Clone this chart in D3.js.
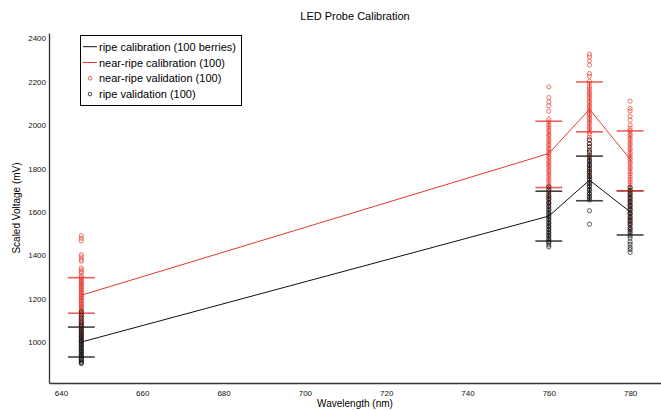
<!DOCTYPE html>
<html>
<head>
<meta charset="utf-8">
<script src="https://cdn.jsdelivr.net/npm/d3@7"></script>
<style>
  body { margin: 0; background: #fff; }
  svg { font-family: "Liberation Sans", Arial, Helvetica, sans-serif; }
</style>
</head>
<body>
<svg></svg>
<script>
const w = 661
const h = 410

// wavelengths (nm) and calibration means
const wavelengths = [645, 760, 770, 780]
const ripeCal = [999, 1580, 1746, 1600]
const nearCal = [1215, 1869, 2073, 1843]

// error caps (upper / lower)
const ripeHi = [1068, 1695, 1857, 1697]
const ripeLo = [930, 1465, 1651, 1493]
const nearHi = [1296, 2018, 2199, 1973]
const nearLo = [1132, 1712, 1969, 1697]

// validation points, one list per wavelength
const nearVal = [
  [1002, 1019, 1033, 1048, 1055, 1069, 1076, 1086, 1092, 1102, 1107, 1117, 1121, 1130, 1134, 1142, 1147, 1155, 1161, 1166, 1174, 1179, 1187, 1191, 1200, 1204, 1212, 1217, 1225, 1230, 1238, 1243, 1251, 1256, 1264, 1269, 1277, 1282, 1290, 1296, 1304, 1318, 1324, 1332, 1341, 1372, 1380, 1392, 1402, 1466, 1478, 1490],
  [1641, 1667, 1691, 1704, 1717, 1727, 1741, 1750, 1763, 1772, 1785, 1794, 1806, 1815, 1827, 1835, 1847, 1855, 1867, 1875, 1887, 1895, 1907, 1915, 1927, 1936, 1949, 1957, 1970, 1979, 1992, 2001, 2015, 2027, 2064, 2089, 2107, 2127, 2176],
  [1761, 1789, 1816, 1837, 1861, 1879, 1899, 1914, 1931, 1944, 1959, 1969, 1982, 1991, 2004, 2012, 2024, 2032, 2044, 2052, 2064, 2072, 2084, 2092, 2104, 2112, 2124, 2132, 2144, 2153, 2166, 2176, 2191, 2202, 2226, 2238, 2277, 2297, 2315, 2327],
  [1518, 1546, 1567, 1591, 1611, 1633, 1651, 1671, 1685, 1701, 1712, 1727, 1737, 1751, 1761, 1775, 1785, 1798, 1807, 1820, 1829, 1842, 1851, 1864, 1873, 1886, 1895, 1908, 1917, 1930, 1939, 1952, 1961, 1975, 1986, 2000, 2023, 2041, 2066, 2077, 2110]
]
const ripeVal = [
  [899, 904, 907, 913, 918, 921, 927, 934, 936, 942, 948, 955, 958, 963, 970, 974, 981, 986, 990, 997, 1003, 1006, 1012, 1019, 1024, 1031, 1036, 1043, 1050, 1057, 1064, 1072, 1079, 1088, 1097, 1110, 1124, 1138],
  [1438, 1447, 1457, 1462, 1471, 1477, 1487, 1492, 1501, 1506, 1516, 1521, 1531, 1536, 1546, 1551, 1561, 1567, 1576, 1582, 1591, 1597, 1607, 1612, 1622, 1628, 1638, 1644, 1655, 1661, 1672, 1679, 1691, 1701, 1715],
  [1543, 1605, 1655, 1664, 1671, 1681, 1687, 1698, 1704, 1714, 1720, 1730, 1736, 1746, 1752, 1762, 1768, 1778, 1785, 1795, 1802, 1813, 1820, 1831, 1839, 1851, 1860, 1874, 1885, 1901, 1914, 1932],
  [1413, 1426, 1436, 1450, 1461, 1479, 1489, 1501, 1509, 1520, 1527, 1538, 1545, 1556, 1562, 1573, 1579, 1590, 1596, 1607, 1613, 1624, 1630, 1641, 1648, 1659, 1666, 1678, 1686, 1699, 1712]
]

const title = 'LED Probe Calibration'
const xAxisLabel = 'Wavelength (nm)'
const yAxisLabel = 'Scaled Voltage (mV)'
const xTicks = [640, 660, 680, 700, 720, 740, 760, 780]
const yTicks = [1000, 1200, 1400, 1600, 1800, 2000, 2200, 2400]

const red = '#e8382d'
const black = '#111'

const svg = d3.select('svg')
  .attr('width', w)
  .attr('height', h)

const margin = {left: 49, right: 661, top: 33, bottom: 383}

const xScale = d3.scaleLinear()
  .domain([637.05, 787.6])
  .range([margin.left, margin.right])

const yScale = d3.scaleLinear()
  .domain([810, 2425])
  .range([margin.bottom, margin.top])

// axes
const xAxis = d3.axisBottom(xScale).tickValues(xTicks).tickFormat(d3.format('d'))
  .tickSize(0).tickPadding(7)
const yAxis = d3.axisLeft(yScale).tickValues(yTicks).tickFormat(d3.format('d'))
  .tickSize(0).tickPadding(3)

const xAxisG = svg.append('g')
  .attr('transform', `translate(0, ${margin.bottom})`)
  .call(xAxis)
const yAxisG = svg.append('g')
  .attr('transform', `translate(${margin.left}, 0)`)
  .call(yAxis)

;[xAxisG, yAxisG].forEach(g => {
  g.select('.domain').attr('stroke', '#333').attr('stroke-width', 1.3)
  g.selectAll('text').attr('font-size', 8).attr('fill', '#111')
    .attr('font-family', '"Liberation Sans", Arial, sans-serif')
})

svg.append('text')
  .attr('x', 355).attr('y', 407)
  .attr('text-anchor', 'middle')
  .attr('font-size', 10)
  .text(xAxisLabel)

svg.append('text')
  .attr('transform', `translate(20, 208) rotate(-90)`)
  .attr('text-anchor', 'middle')
  .attr('font-size', 10)
  .text(yAxisLabel)

svg.append('text')
  .attr('x', 355).attr('y', 20)
  .attr('text-anchor', 'middle')
  .attr('font-size', 11)
  .text(title)

const capHalf = 3.3 // nm

// calibration lines
const line = d3.line()
  .x((d, i) => xScale(wavelengths[i]))
  .y(d => yScale(d))

const drawGroup = (cal, hi, lo, color) => {
  svg.append('path')
    .datum(cal)
    .attr('d', line)
    .attr('fill', 'none')
    .attr('stroke', color)
    .attr('stroke-width', 1)

  wavelengths.forEach((wl, i) => {
    svg.append('line')
      .attr('x1', xScale(wl)).attr('x2', xScale(wl))
      .attr('y1', yScale(hi[i])).attr('y2', yScale(lo[i]))
      .attr('stroke', color).attr('stroke-width', 1)
    ;[hi[i], lo[i]].forEach(v => {
      svg.append('line')
        .attr('x1', xScale(wl - capHalf)).attr('x2', xScale(wl + capHalf))
        .attr('y1', yScale(v)).attr('y2', yScale(v))
        .attr('stroke', color).attr('stroke-width', 1.6)
        .attr('stroke-opacity', 0.8)
    })
  })
}

drawGroup(ripeCal, ripeHi, ripeLo, black)
drawGroup(nearCal, nearHi, nearLo, red)

const drawPoints = (sets, color) => {
  sets.forEach((vals, i) => {
    svg.append('g').selectAll('circle').data(vals)
      .enter().append('circle')
      .attr('cx', xScale(wavelengths[i]))
      .attr('cy', d => yScale(d))
      .attr('r', 2.1)
      .attr('fill', 'none')
      .attr('stroke', color)
      .attr('stroke-width', 0.8)
      .attr('stroke-opacity', 0.85)
  })
}

drawPoints(nearVal, red)
drawPoints(ripeVal, black)

// legend
const legend = svg.append('g')
legend.append('rect')
  .attr('x', 80.5).attr('y', 35.5)
  .attr('width', 161).attr('height', 70)
  .attr('fill', '#fff').attr('stroke', '#000').attr('stroke-width', 1)

const legendItems = [
  {label: 'ripe calibration (100 berries)', color: black, type: 'line'},
  {label: 'near-ripe calibration (100)', color: red, type: 'line'},
  {label: 'near-ripe validation (100)', color: red, type: 'circle'},
  {label: 'ripe validation (100)', color: black, type: 'circle'}
]

legendItems.forEach((d, i) => {
  const y = 46.7 + i * 15.8
  if (d.type === 'line') {
    legend.append('line')
      .attr('x1', 83).attr('x2', 97)
      .attr('y1', y).attr('y2', y)
      .attr('stroke', d.color).attr('stroke-width', 1)
  } else {
    legend.append('circle')
      .attr('cx', 90).attr('cy', y).attr('r', 1.8)
      .attr('fill', 'none').attr('stroke', d.color).attr('stroke-width', 0.8)
  }
  legend.append('text')
    .attr('x', 99).attr('y', y + 4)
    .attr('font-size', 11)
    .text(d.label)
})
</script>
</body>
</html>
